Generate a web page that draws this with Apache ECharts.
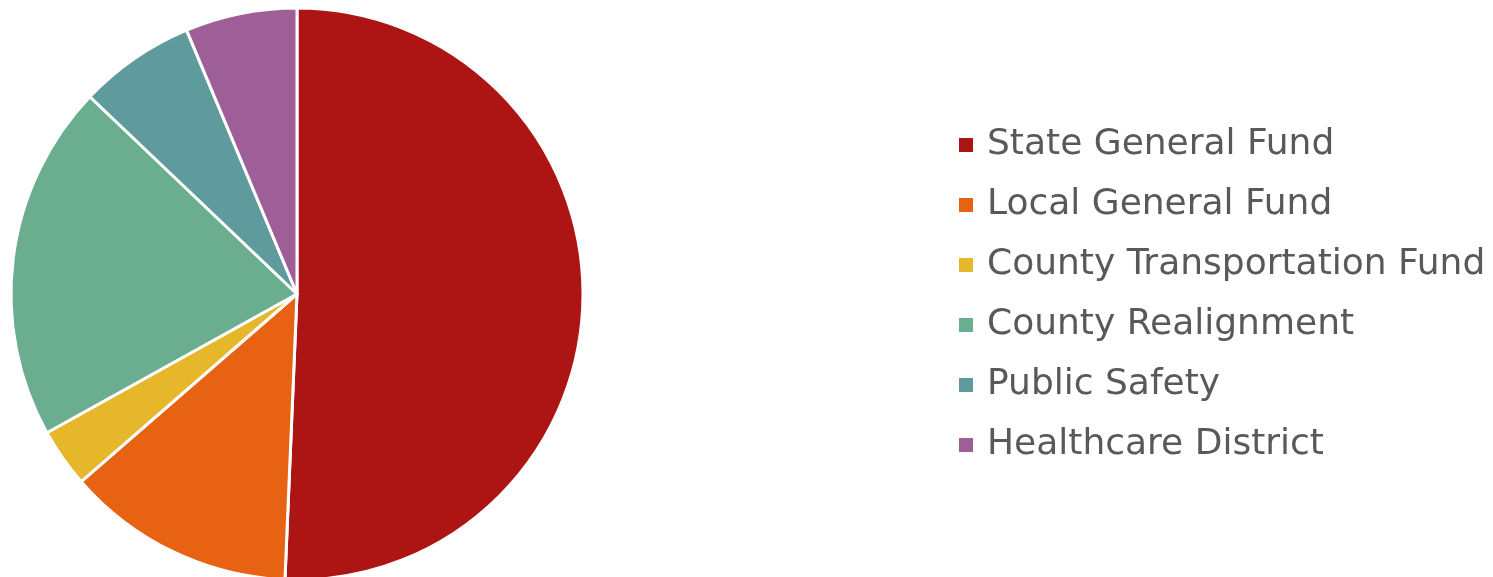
<!DOCTYPE html>
<html>
<head>
<meta charset="utf-8">
<script src="https://cdn.jsdelivr.net/npm/echarts@6/dist/echarts.min.js"></script>
<style>
  html, body { margin: 0; padding: 0; background: #ffffff; }
  #chart { width: 1493px; height: 577px; }
</style>
</head>
<body>
<div id="chart"></div>
<script>
// Funding sources (share of total, percent)
const categories = [
  'State General Fund',
  'Local General Fund',
  'County Transportation Fund',
  'County Realignment',
  'Public Safety',
  'Healthcare District'
];
const shares = [50.67, 12.94, 3.33, 20.17, 6.58, 6.31];
const colors = ['#AD1515', '#E86214', '#E6B72A', '#6AAD8F', '#5F9B9C', '#9E5F99'];

const chart = echarts.init(document.getElementById('chart'), null, { renderer: 'canvas' });

chart.setOption({
  animation: false,
  backgroundColor: '#ffffff',
  color: colors,
  legend: {
    orient: 'vertical',
    left: 957,
    top: 125,
    padding: 0,
    itemWidth: 16,
    itemHeight: 16,
    itemGap: 20,
    icon: 'rect',
    data: categories,
    textStyle: {
      fontFamily: 'DejaVu Sans',
      fontSize: 36,
      lineHeight: 40,
      color: '#595959',
      padding: [0, 0, 0, 8]
    }
  },
  series: [{
    type: 'pie',
    center: [297, 294],
    radius: 286,
    startAngle: 90,
    clockwise: true,
    label: { show: false },
    labelLine: { show: false },
    itemStyle: { borderColor: '#ffffff', borderWidth: 3 },
    emphasis: { disabled: true },
    data: categories.map((name, i) => ({ name, value: shares[i] }))
  }]
});
</script>
</body>
</html>
